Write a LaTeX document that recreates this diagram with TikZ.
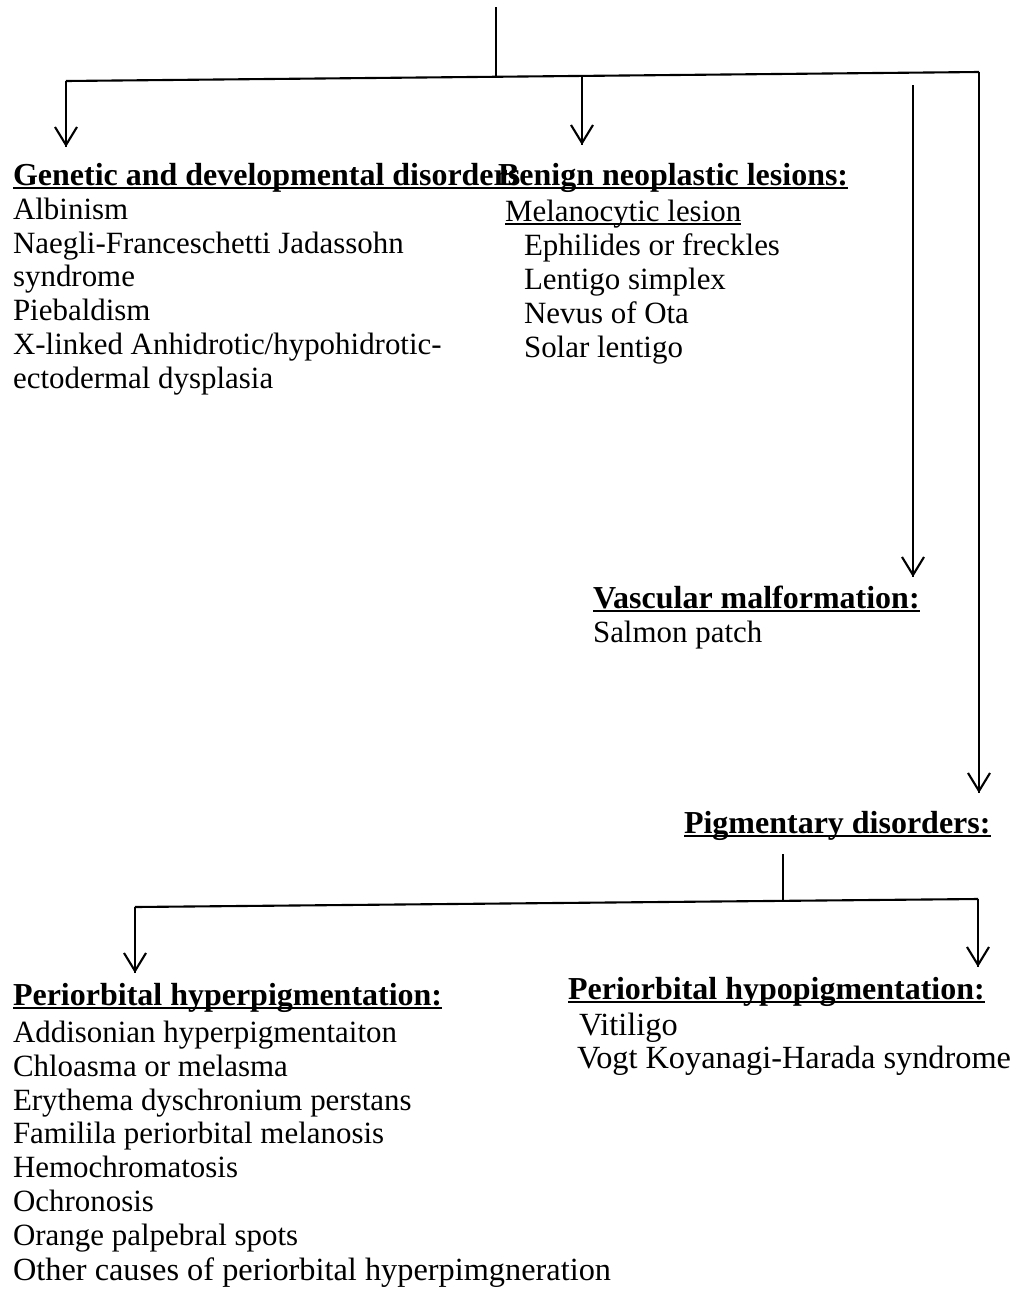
\documentclass[tikz,border=0pt]{standalone}
\usepackage{fontspec}
\setmainfont{Liberation Serif}
\usetikzlibrary{arrows.meta}
\usetikzlibrary{decorations.markings}
\usetikzlibrary{positioning}
\newcommand{\wordul}[1]{\setbox0\hbox{#1}\rlap{\rule[-1.1pt]{\wd0}{0.6pt}}\box0}
\tikzset{->/.style = {decoration={markings,mark=at position 1 with {\arrow{Straight Barb[length=1.8mm,width=2.2mm]}}},postaction={decorate}}}
\tikzset{heading/.style = {anchor=base west,inner sep=0pt,font=\bfseries\fontsize{9.1pt}{9.6pt}\selectfont}}
\tikzset{items/.style = {anchor=base west,inner sep=0pt,align=left,font=\fontsize{8.8pt}{9.6pt}\selectfont}}
\tikzset{itemst/.style = {items,font=\fontsize{9.2pt}{9.6pt}\selectfont}}

\begin{document}
\begin{tikzpicture}[line width=0.6pt]
        \useasboundingbox (0,0) rectangle (10.17,-12.93);
        \node[heading] (gen) at (0.12,-1.85) {\wordul{Genetic and developmental disorders}};
        \node[items] (genlist) at (0.12,-3.88) {Albinism\\Naegli-Franceschetti Jadassohn\\syndrome\\Piebaldism\\X-linked Anhidrotic/hypohidrotic-\\ectodermal dysplasia};
        \node[heading] (ben) at (4.97,-1.85) {\wordul{Benign neoplastic lesions:}};
        \node[items] (mel) at (5.04,-2.21) {\wordul{Melanocytic lesion}};
        \node[items] (benlist) at (5.23,-3.57) {Ephilides or freckles\\Lentigo simplex\\Nevus of Ota\\Solar lentigo};
        \node[heading] (vas) at (5.92,-6.08) {\wordul{Vascular malformation:}};
        \node[items] (vaslist) at (5.92,-6.42) {Salmon patch};
        \node[heading] (pig) at (6.83,-8.33) {\wordul{Pigmentary disorders:}};
        \node[heading] (hyper) at (0.12,-10.05) {\wordul{Periorbital hyperpigmentation:}};
        \node[items] (hyperlist) at (0.12,-12.45) {Addisonian hyperpigmentaiton\\Chloasma or melasma\\Erythema dyschronium perstans\\Familila periorbital melanosis\\Hemochromatosis\\Ochronosis\\Orange palpebral spots};
        \node[itemst] (other) at (0.12,-12.80) {Other causes of periorbital hyperpimgneration};
        \node[heading] (hypo) at (5.67,-9.99) {\wordul{Periorbital hypopigmentation:}};
        \node[itemst] (vit) at (5.78,-10.35) {Vitiligo};
        \node[itemst] (vogt) at (5.76,-10.68) {Vogt Koyanagi-Harada syndrome};
        \coordinate (top) at (4.96,-0.07);
        \coordinate (top1) at (4.96,-0.77);
        \coordinate (left1) at (0.66,-0.81);
        \coordinate (right1) at (9.79,-0.72);
        \coordinate (mid1) at (5.82,-0.765);
        \coordinate (mid2) at (9.13,-0.85);
        \coordinate (gentip) at (0.66,-1.47);
        \coordinate (bentip) at (5.82,-1.45);
        \coordinate (vastip) at (9.13,-5.77);
        \coordinate (pigtip) at (9.79,-7.93);
        \coordinate (pig1) at (7.83,-8.54);
        \coordinate (pig2) at (7.83,-9.00);
        \coordinate (left2) at (1.35,-9.07);
        \coordinate (right2) at (9.78,-8.99);
        \coordinate (hypertip) at (1.35,-9.73);
        \coordinate (hypotip) at (9.78,-9.67);
        \draw (top)--(top1);
        \draw (left1)--(right1);
        \draw [->] (left1)--(gentip);
        \draw [->] (mid1)--(bentip);
        \draw [->] (mid2)--(vastip);
        \draw [->] (right1)--(pigtip);
        \draw (pig1)--(pig2);
        \draw (left2)--(right2);
        \draw [->] (left2)--(hypertip);
        \draw [->] (right2)--(hypotip);
    \end{tikzpicture}
\end{document}
